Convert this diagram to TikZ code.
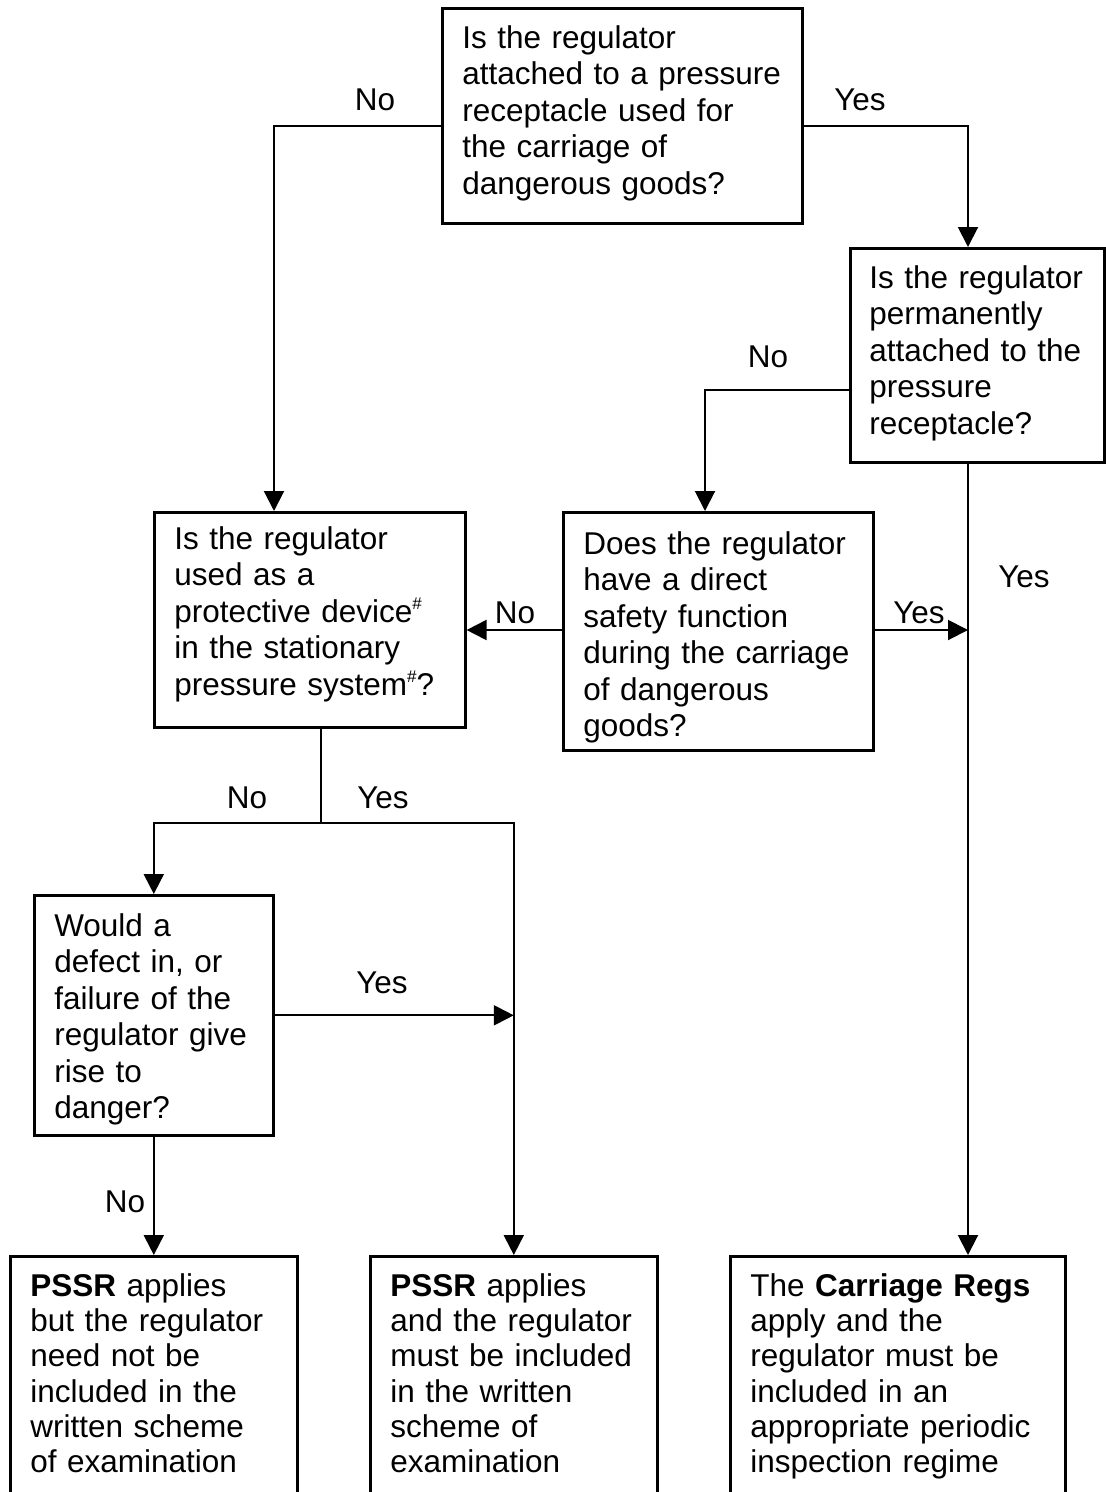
\documentclass[tikz,border=0pt]{standalone}
\usepackage{fontspec}
\setmainfont{Liberation Sans}
\usetikzlibrary{arrows.meta}

\newcommand{\qfont}{\fontsize{31.5pt}{36.5pt}\selectfont}
\newcommand{\ofont}{\fontsize{31.5pt}{35.3pt}\selectfont}
\newcommand{\hashsup}{\raisebox{13pt}{\fontsize{17pt}{17pt}\selectfont\#}}

\tikzset{
  qbox/.style={draw, line width=2.6pt, anchor=north west, align=left,
    inner xsep=20pt, inner ysep=0pt, font=\qfont},
  outbox/.style={qbox, font=\ofont, text height=40pt, text depth=260pt},
  link/.style={line width=2pt, -{Triangle[length=20pt,width=20pt]}},
  plain/.style={line width=2pt},
  lbl/.style={font=\qfont, anchor=base}
}

\begin{document}
\begin{tikzpicture}[x=1pt,y=-1pt]
    \useasboundingbox (0,0) rectangle (1106,1492);
    \clip (0,0) rectangle (1106,1492);

    % questions
    \node[qbox, text width=320pt, text height=40pt, text depth=175pt] (q1) at (441,7)
        {Is the regulator\\attached to a pressure\\receptacle used for\\the carriage of\\dangerous goods?};
    \node[qbox, inner xsep=19pt, text width=216pt, text height=40pt, text depth=174pt] (q2) at (849,247)
        {Is the regulator\\permanently\\attached to the\\pressure\\receptacle?};
    \node[qbox, text width=271pt, text height=37pt, text depth=178pt] (q3) at (153,511)
        {Is the regulator\\used as a\\protective device\hashsup\\in the stationary\\pressure system\hashsup?};
    \node[qbox, text width=270pt, text height=42pt, text depth=196pt] (q4) at (562,511)
        {Does the regulator\\have a direct\\safety function\\during the carriage\\of dangerous\\goods?};
    \node[qbox, text width=199pt, text height=41pt, text depth=199pt] (q5) at (33,894)
        {Would a\\defect in, or\\failure of the\\regulator give\\rise to\\danger?};

    % outcomes
    \node[outbox, text width=247pt] (q6) at (9,1255)
        {\textbf{PSSR} applies\\but the regulator\\need not be\\included in the\\written scheme\\of examination};
    \node[outbox, text width=247pt] (q7) at (369,1255)
        {\textbf{PSSR} applies\\and the regulator\\must be included\\in the written\\scheme of\\examination};
    \node[outbox, text width=295pt] (q8) at (729,1255)
        {The \textbf{Carriage Regs}\\apply and the\\regulator must be\\included in an\\appropriate periodic\\inspection regime};

    % bends
    \coordinate (c1) at (274,126);
    \coordinate (c2) at (968,126);
    \coordinate (c3) at (705,390);
    \coordinate (c4) at (968,630);
    \coordinate (c5) at (321,823);

    \draw[link] (c1 -| q1.west) -- (c1) -- (c1 |- q3.north);
    \draw[link] (c2 -| q1.east) -- (c2) -- (c2 |- q2.north);
    \draw[link] (c3 -| q2.west) -- (c3) -- (c3 |- q4.north);
    \draw[link] (c4 |- q2.south) -- (c4 |- q8.north);
    \draw[link] (c4 -| q4.east) -- (c4);
    \draw[link] (c4 -| q4.west) -- (c4 -| q3.east);
    \draw[plain] (c5 |- q3.south) -- (c5);
    \draw[link] (c5) -| (q5.north);
    \draw[link] (c5) -| (q7.north);
    \draw[link] (q5.east) -- (q5.east -| q7.north);
    \draw[link] (q5.south) -- (q6.north);

    % answers
    \node[lbl] (l1no) at (375,110) {No};
    \node[lbl] (l1yes) at (860,110) {Yes};
    \node[lbl] (l2no) at (768,367) {No};
    \node[lbl] (l2yes) at (1024,587) {Yes};
    \node[lbl] (l4no) at (515,623) {No};
    \node[lbl] (l4yes) at (919,623) {Yes};
    \node[lbl] (l3no) at (247,808) {No};
    \node[lbl] (l3yes) at (383,808) {Yes};
    \node[lbl] (l5yes) at (382,993) {Yes};
    \node[lbl] (l5no) at (125,1212) {No};
\end{tikzpicture}
\end{document}
